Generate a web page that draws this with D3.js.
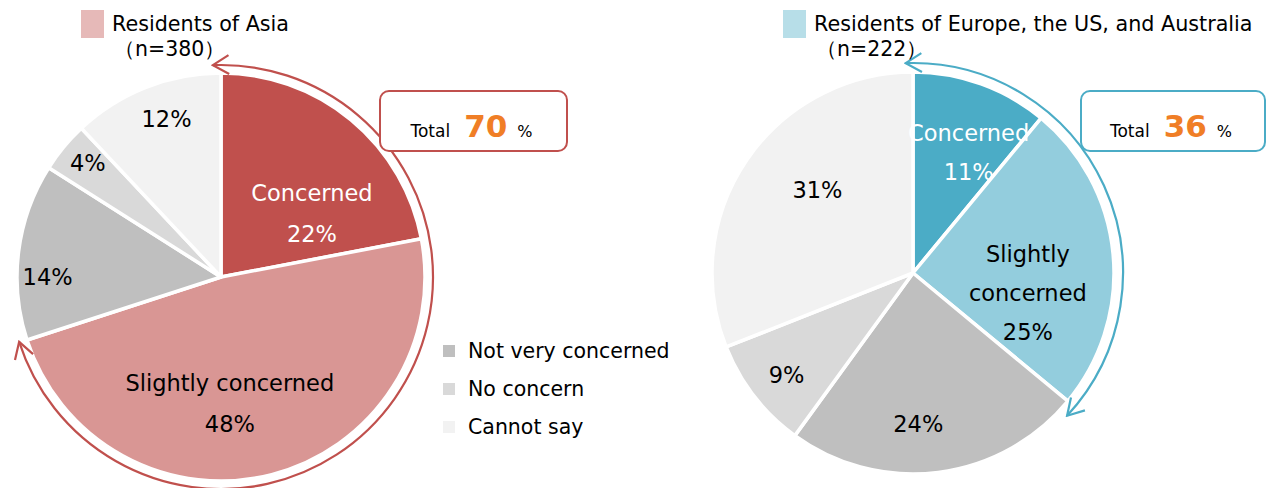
<!DOCTYPE html>
<html><head><meta charset="utf-8">
<script src="https://cdn.jsdelivr.net/npm/d3@7"></script>
<style>body{margin:0;background:#fff}svg{display:block}text{font-family:"DejaVu Sans",sans-serif}</style>
</head><body>
<svg id="c" width="1274" height="488"></svg>
<script>
// ---- data ----
const categories = ["Concerned","Slightly concerned","Not very concerned","No concern","Cannot say"];
const asiaValues = [22,48,14,4,12];
const westValues = [11,25,24,9,31];
const asiaTitle = "Residents of Asia";
const asiaN = "（n=380）";
const westTitle = "Residents of Europe, the US, and Australia";
const westN = "（n=222）";
const asiaTotal = 70;
const westTotal = 36;
const legendCategories = ["Not very concerned","No concern","Cannot say"];

// ---- styles / layout ----
const asiaColors = ["#C0504D","#D99694","#BFBFBF","#D9D9D9","#F2F2F2"];
const westColors = ["#4BACC6","#93CDDD","#BFBFBF","#D9D9D9","#F2F2F2"];
const asiaTextColors = ["#fff","#000","#000","#000","#000"];
const westTextColors = ["#fff","#000","#000","#000","#000"];
const asiaLines = [["Concerned","22%"],["Slightly concerned","48%"],["14%"],["4%"],["12%"]];
const westLines = [["Concerned","11%"],["Slightly","concerned","25%"],["24%"],["9%"],["31%"]];
// label placement: angle shift from slice mid (deg), radius fraction
const asiaLabelPlace = [[15.3,0.545],[10.4,0.62],[-7.2,0.85],[1,0.86],[2.6,0.82]];
const westLabelPlace = [[5,0.66],[15.3,0.58],[5.2,0.75],[-1.2,0.81],[6.8,0.63]];

const svg = d3.select("#c");
const defs = svg.append("defs");
function marker(id,color){
  defs.append("marker").attr("id",id).attr("viewBox","-19 -12 21 24")
    .attr("refX",0).attr("refY",0).attr("markerWidth",21).attr("markerHeight",24)
    .attr("markerUnits","userSpaceOnUse").attr("orient","auto-start-reverse")
    .append("path").attr("d","M-16,-9.5L0,0L-16,9.5").attr("fill","none")
    .attr("stroke",color).attr("stroke-width",2.2);
}
marker("mRed","#C0504D");
marker("mBlue","#4BACC6");

const pie = d3.pie().sort(null).value(d=>d);

function drawPie(cfg){
  const g = svg.append("g").attr("transform",`translate(${cfg.cx},${cfg.cy})`);
  const arcs = pie(cfg.values);
  const arc = d3.arc().innerRadius(0).outerRadius(cfg.R);
  g.selectAll("path.slice").data(arcs).join("path").attr("class","slice")
    .attr("d",arc).attr("fill",(d,i)=>cfg.colors[i])
    .attr("stroke","#fff").attr("stroke-width",3.5).attr("stroke-linejoin","round");

  // labels
  arcs.forEach((d,i)=>{
    const mid = (d.startAngle+d.endAngle)/2 + cfg.place[i][0]*Math.PI/180;
    const r = cfg.R*cfg.place[i][1];
    const la = d3.arc().innerRadius(r).outerRadius(r);
    const [x,y] = la.centroid({startAngle:mid,endAngle:mid});
    const lines = cfg.lines[i];
    const lh = cfg.lineH;
    const t = g.append("text").attr("text-anchor","middle").attr("font-size",cfg.fs)
      .attr("fill",cfg.textColors[i]);
    lines.forEach((s,k)=>{
      t.append("tspan").attr("x",x).attr("y",y+(k-(lines.length-1)/2)*lh)
        .attr("dominant-baseline","central").text(s);
    });
  });

  // bracket arc
  const endFrac = d3.sum(cfg.values.slice(0,2))/d3.sum(cfg.values);
  const a0 = -cfg.arcStartExtra*Math.PI/180 - Math.PI/2;
  const a1 = endFrac*2*Math.PI + cfg.arcEndExtra*Math.PI/180 - Math.PI/2;
  const p = d3.path();
  p.arc(0,0,cfg.arcR,a0,a1);
  g.append("path").attr("d",p.toString()).attr("fill","none")
    .attr("stroke",cfg.arcColor).attr("stroke-width",2.2)
    .attr("marker-start",`url(#${cfg.marker})`).attr("marker-end",`url(#${cfg.marker})`);

  // title
  svg.append("rect").attr("x",cfg.tx).attr("y",10).attr("width",23).attr("height",28).attr("fill",cfg.titleColor);
  svg.append("text").attr("x",cfg.tx+31).attr("y",31).attr("font-size",20.7).attr("fill","#000").text(cfg.title);
  svg.append("text").attr("x",cfg.tx+33).attr("y",56).attr("font-size",20.5).attr("fill","#000").text(cfg.n);

  // total box
  svg.append("rect").attr("x",cfg.bx).attr("y",91).attr("width",cfg.bw).attr("height",60)
    .attr("rx",9).attr("fill","#fff").attr("stroke",cfg.arcColor).attr("stroke-width",2);
  const tt = svg.append("text").attr("x",cfg.bx+cfg.bw/2-2).attr("y",137).attr("text-anchor","middle").attr("fill","#000");
  tt.append("tspan").attr("font-size",17).text("Total");
  tt.append("tspan").attr("font-size",31).attr("font-weight","bold").attr("fill","#F07E26").attr("dx",14).text(cfg.total);
  tt.append("tspan").attr("font-size",16).attr("dx",10).text("%");
}

drawPie({cx:221,cy:277,R:204,values:asiaValues,colors:asiaColors,textColors:asiaTextColors,
  lines:asiaLines,place:asiaLabelPlace,fs:22.5,lineH:41,arcR:212,arcStartExtra:2.2,arcEndExtra:0.2,arcColor:"#C0504D",marker:"mRed",
  tx:81,title:asiaTitle,n:asiaN,titleColor:"#E6B9B8",bx:380,bw:187,total:asiaTotal});
drawPie({cx:913,cy:273,R:201,values:westValues,colors:westColors,textColors:westTextColors,
  lines:westLines,place:westLabelPlace,fs:22.5,lineH:39,arcR:210,arcStartExtra:2,arcEndExtra:3.2,arcColor:"#4BACC6",marker:"mBlue",
  tx:783,title:westTitle,n:westN,titleColor:"#B7DEE8",bx:1081,bw:184,total:westTotal});

// legend
const legendColors = ["#BFBFBF","#D9D9D9","#F2F2F2"];
const ly = d3.scalePoint().domain(legendCategories).range([351,427]);
const lg = svg.append("g");
legendCategories.forEach((c,i)=>{
  lg.append("rect").attr("x",443).attr("y",ly(c)-6).attr("width",12).attr("height",12).attr("fill",legendColors[i]);
  lg.append("text").attr("x",468).attr("y",ly(c)).attr("dominant-baseline","central").attr("font-size",20.5).attr("fill","#000").text(c);
});
</script>
</body></html>
